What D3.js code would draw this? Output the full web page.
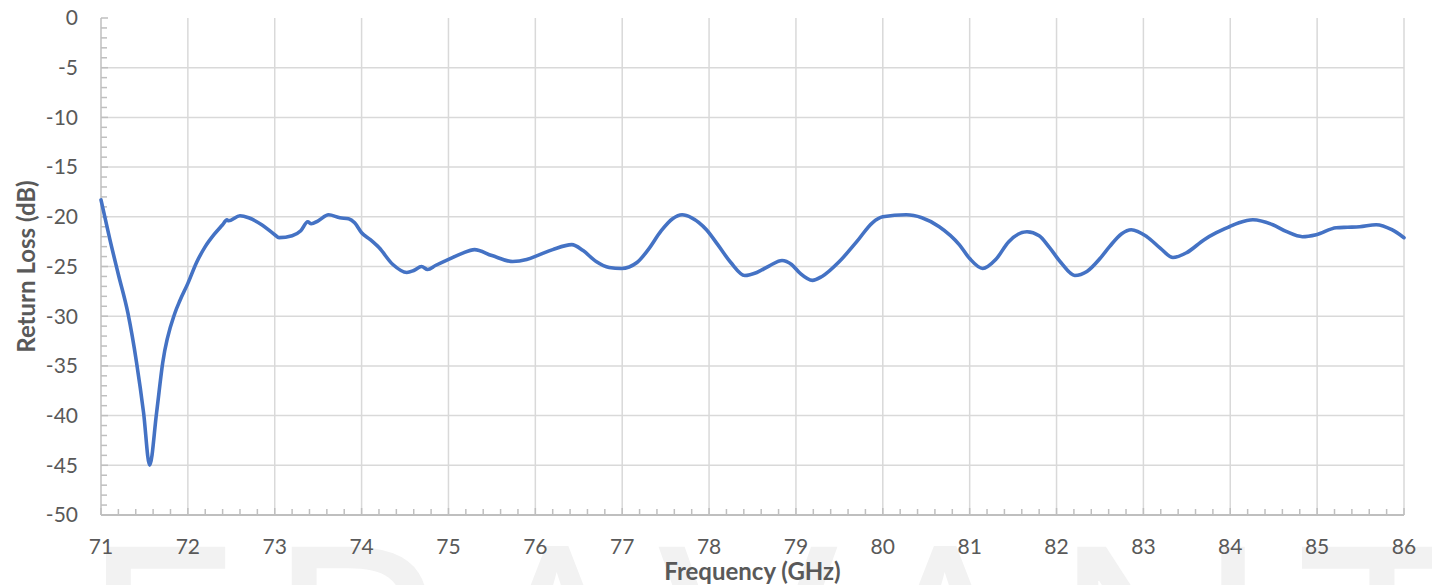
<!DOCTYPE html>
<html>
<head>
<meta charset="utf-8">
<script src="https://cdn.jsdelivr.net/npm/d3@7"></script>
<style>
  html, body { margin: 0; padding: 0; background: #ffffff; }
  svg { display: block; }
</style>
</head>
<body>
<svg id="chart" width="1432" height="585"></svg>
<script>
// ---- data ----
const freqGHz = [
  71.0, 71.1, 71.2, 71.31, 71.41, 71.49, 71.56, 71.64, 71.71, 71.85, 71.91,
  72.0, 72.1, 72.2, 72.3, 72.4, 72.45, 72.47, 72.6, 72.7, 72.85, 73.0, 73.05, 73.2, 73.3,
  73.38, 73.42, 73.5, 73.62, 73.75, 73.85, 73.92, 74.0, 74.1, 74.2, 74.36, 74.52, 74.6,
  74.69, 74.76, 74.85, 75.02, 75.15, 75.3, 75.5, 75.74, 75.9, 76.05, 76.2, 76.42, 76.55,
  76.7, 76.85, 76.99, 77.17, 77.3, 77.45, 77.58, 77.69, 77.8, 77.97, 78.1, 78.25, 78.41,
  78.55, 78.7, 78.84, 78.95, 79.05, 79.19, 79.3, 79.5, 79.7, 79.88, 80.0, 80.27, 80.45,
  80.65, 80.88, 81.0, 81.15, 81.3, 81.45, 81.66, 81.8, 81.92, 82.05, 82.21, 82.35, 82.5,
  82.61, 82.75, 82.86, 83.04, 83.2, 83.34, 83.5, 83.7, 83.84, 83.99, 84.1, 84.26, 84.49,
  84.65, 84.83, 84.99, 85.22, 85.35, 85.49, 85.68, 85.86, 86.0
];
const returnLossDb = [
  -18.3, -22.2, -25.8, -29.7, -34.7, -39.7, -45.0, -39.7, -34.7, -29.7, -28.4,
  -26.7, -24.6, -23.0, -21.8, -20.8, -20.3, -20.4, -19.9, -20.1, -20.8, -21.8, -22.1, -21.9, -21.4,
  -20.5, -20.7, -20.4, -19.8, -20.1, -20.2, -20.6, -21.6, -22.3, -23.1, -24.8, -25.6, -25.4,
  -25.0, -25.3, -24.9, -24.2, -23.7, -23.3, -23.9, -24.5, -24.3, -23.8, -23.3, -22.8, -23.4,
  -24.5, -25.1, -25.2, -24.6, -23.3, -21.4, -20.2, -19.8, -20.1, -21.3, -22.8, -24.6, -25.9,
  -25.6, -24.9, -24.4, -24.8, -25.7, -26.4, -26.0, -24.5, -22.5, -20.6, -20.0, -19.8, -20.1,
  -21.0, -22.8, -24.2, -25.2, -24.3, -22.5, -21.5, -21.9, -23.1, -24.6, -25.9, -25.5, -24.2,
  -23.0, -21.7, -21.3, -22.0, -23.2, -24.1, -23.6, -22.3, -21.6, -21.0, -20.6, -20.3, -20.8,
  -21.5, -22.0, -21.8, -21.1, -21.05, -21.0, -20.8, -21.3, -22.1
];
const xTicks = [71, 72, 73, 74, 75, 76, 77, 78, 79, 80, 81, 82, 83, 84, 85, 86];
const yTicks = [0, -5, -10, -15, -20, -25, -30, -35, -40, -45, -50];
const xTitle = "Frequency (GHz)";
const yTitle = "Return Loss (dB)";
const watermarkLetters = ["E", "R", "A", "V", "A", "N", "T"];

// ---- layout ----
const svg = d3.select("#chart");
const L = 101, R = 1404, T = 18, B = 515;
const x = d3.scaleLinear().domain([71, 86]).range([L, R]);
const y = d3.scaleLinear().domain([-50, 0]).range([B, T]);
const textColor = "#595959";
const font = "Lato, 'Open Sans', sans-serif";

svg.append("rect").attr("width", 1432).attr("height", 585).attr("fill", "#ffffff");

// watermark (decorative, partly below the picture edge as in the reference)
const wmCenters = [160, 355, 557, 748, 945, 1161, 1382];
svg.append("g").selectAll("text").data(watermarkLetters).join("text")
  .attr("x", (d, i) => wmCenters[i])
  .attr("y", 761)
  .attr("text-anchor", "middle")
  .attr("font-family", "'Open Sans', sans-serif")
  .attr("font-weight", 400)
  .attr("font-size", 300)
  .attr("fill", "#f2f2f2")
  .text(d => d);

// gridlines
const grid = svg.append("g");
grid.selectAll("line.h").data(yTicks.filter(v => v !== 0 && v !== -50)).join("line")
  .attr("x1", L).attr("x2", R)
  .attr("y1", d => y(d)).attr("y2", d => y(d))
  .attr("stroke", "#d9d9d9").attr("stroke-width", 1.5);
grid.selectAll("line.v").data(xTicks.filter(v => v !== 71)).join("line")
  .attr("x1", d => x(d)).attr("x2", d => x(d))
  .attr("y1", T).attr("y2", B)
  .attr("stroke", "#d9d9d9").attr("stroke-width", 1.5);

// minor ticks
const yMinor = d3.range(-49, 0, 1).filter(v => v % 5 !== 0);
svg.append("g").selectAll("line").data(yMinor).join("line")
  .attr("x1", L).attr("x2", L + 6)
  .attr("y1", d => y(d)).attr("y2", d => y(d))
  .attr("stroke", "#bfbfbf").attr("stroke-width", 1.5);
svg.append("g").selectAll("line").data(yTicks).join("line")
  .attr("x1", L).attr("x2", L + 7)
  .attr("y1", d => y(d)).attr("y2", d => y(d))
  .attr("stroke", "#bfbfbf").attr("stroke-width", 1.5);
const xMinor = d3.range(0, 75).map(i => 71 + i * 0.2).filter((v, i) => i % 5 !== 0);
svg.append("g").selectAll("line").data(xMinor).join("line")
  .attr("x1", d => x(d)).attr("x2", d => x(d))
  .attr("y1", B).attr("y2", B - 6)
  .attr("stroke", "#bfbfbf").attr("stroke-width", 1.5);
svg.append("g").selectAll("line").data(xTicks).join("line")
  .attr("x1", d => x(d)).attr("x2", d => x(d))
  .attr("y1", B).attr("y2", B - 7)
  .attr("stroke", "#bfbfbf").attr("stroke-width", 1.5);

// axis lines
svg.append("line").attr("x1", L).attr("x2", L).attr("y1", T).attr("y2", B)
  .attr("stroke", "#bfbfbf").attr("stroke-width", 1.5);
svg.append("line").attr("x1", L).attr("x2", R).attr("y1", B).attr("y2", B)
  .attr("stroke", "#bfbfbf").attr("stroke-width", 2);

// tick labels
svg.append("g").selectAll("text").data(yTicks).join("text")
  .attr("x", 78).attr("y", d => y(d))
  .attr("dy", "0.35em")
  .attr("text-anchor", "end")
  .attr("font-family", font).attr("font-size", 21)
  .attr("fill", textColor)
  .text(d => d3.format("d")(d).replace("−", "-"));
svg.append("g").selectAll("text").data(xTicks).join("text")
  .attr("x", d => x(d)).attr("y", 554)
  .attr("text-anchor", "middle")
  .attr("font-family", font).attr("font-size", 21)
  .attr("fill", textColor)
  .text(d => d);

// titles
svg.append("text")
  .attr("x", (L + R) / 2).attr("y", 580)
  .attr("text-anchor", "middle")
  .attr("font-family", font).attr("font-weight", 700).attr("font-size", 24)
  .attr("fill", textColor)
  .text(xTitle);
svg.append("text")
  .attr("transform", `translate(35, ${(T + B) / 2}) rotate(-90)`)
  .attr("text-anchor", "middle")
  .attr("font-family", font).attr("font-weight", 700).attr("font-size", 24)
  .attr("fill", textColor)
  .text(yTitle);

// data line
const pts = freqGHz.map((f, i) => [f, returnLossDb[i]]);
const line = d3.line().x(d => x(d[0])).y(d => y(d[1])).curve(d3.curveMonotoneX);
svg.append("path")
  .datum(pts)
  .attr("d", line)
  .attr("fill", "none")
  .attr("stroke", "#4472C4")
  .attr("stroke-width", 3.6)
  .attr("stroke-linejoin", "round")
  .attr("stroke-linecap", "round");
</script>
</body>
</html>
